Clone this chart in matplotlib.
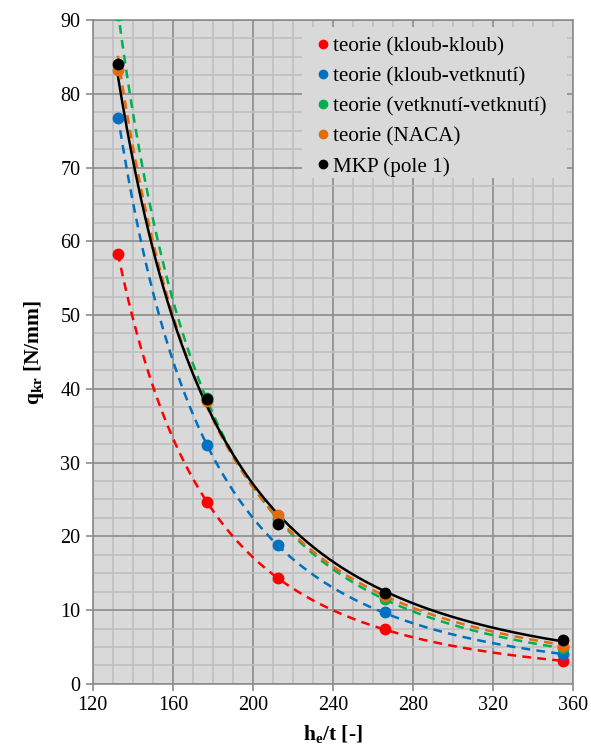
import matplotlib.pyplot as plt
import numpy as np
from matplotlib.patches import Rectangle
from matplotlib.ticker import MultipleLocator

plt.rcParams['font.family'] = ['Liberation Serif', 'DejaVu Serif']
plt.rcParams['mathtext.fontset'] = 'custom'
plt.rcParams['mathtext.rm'] = 'Liberation Serif'
plt.rcParams['mathtext.bf'] = 'Liberation Serif:bold'

# pomer h_e/t
x = np.array([132.5, 177.0, 212.5, 266.0, 355.0])

# kriticke zatizeni q_kr [N/mm]
q_kk = np.array([58.3, 24.7, 14.3, 7.4, 3.1])      # kloub-kloub
q_kv = np.array([76.7, 32.4, 18.8, 9.7, 4.0])      # kloub-vetknuti
q_vv = np.array([90.7, 38.7, 22.4, 11.5, 4.8])     # vetknuti-vetknuti
q_naca = np.array([83.2, 38.3, 22.9, 11.9, 5.2])   # NACA
q_mkp = np.array([84.1, 38.6, 21.7, 12.3, 5.95])   # MKP (pole 1)

series = [
    ("teorie (kloub-kloub)", q_kk, "#FF0000", (0, (3.5, 2.5))),
    ("teorie (kloub-vetknutí)", q_kv, "#0070C0", (0, (3.5, 2.5))),
    ("teorie (vetknutí-vetknutí)", q_vv, "#00B050", (0, (3.5, 2.5))),
    ("teorie (NACA)", q_naca, "#E46C0A", (0, (3.5, 2.5))),
    ("MKP (pole 1)", q_mkp, "#000000", "-"),
]

fig = plt.figure(figsize=(5.91, 7.54), dpi=100)
ax = fig.add_axes([0.157, 0.093, 0.813, 0.8805])
ax.set_facecolor("#D9D9D9")

xs = np.linspace(x[0], x[-1], 300)
for name, y, c, ls in series:
    # mocninna spojnice trendu (jako v Excelu)
    b, a = np.polyfit(np.log(x), np.log(y), 1)
    ax.plot(xs, np.exp(a) * xs ** b, color=c, ls=ls, lw=1.8, zorder=3)
    ax.plot(x, y, "o", color=c, ms=7.5, label=name, zorder=4)

ax.set_xlim(120, 360)
ax.set_ylim(0, 90)
ax.xaxis.set_major_locator(MultipleLocator(40))
ax.xaxis.set_minor_locator(MultipleLocator(10))
ax.yaxis.set_major_locator(MultipleLocator(10))
ax.yaxis.set_minor_locator(MultipleLocator(2.5))
ax.grid(which="minor", color="#BFBFBF", lw=1.2, zorder=0)
ax.grid(which="major", color="#8C8C8C", lw=1.2, zorder=1)
ax.set_axisbelow(True)
for s in ax.spines.values():
    s.set_color("#8C8C8C")
    s.set_linewidth(1.2)
ax.tick_params(which="major", length=5, width=1.2, color="#8C8C8C", labelsize=14.5, pad=4)
ax.tick_params(which="minor", length=0)

ax.set_xlabel(r"h$_\mathbf{e}$/t [-]", fontsize=15.5, fontweight="bold", labelpad=6)
ax.set_ylabel(r"q$_\mathbf{kr}$ [N/mm]", fontsize=15.5, fontweight="bold", labelpad=10)

# pozadi legendy (zakryje mrizku), legenda bez ramecku
ax.add_patch(Rectangle((0.435, 0.762), 0.5525, 0.2275, transform=ax.transAxes,
                       facecolor="#D9D9D9", edgecolor="none", zorder=2))
leg = ax.legend(loc="upper left", bbox_to_anchor=(0.453, 0.975), fontsize=15.2,
                frameon=False, borderaxespad=0, borderpad=0,
                handlelength=1.2, handletextpad=-0.12,
                labelspacing=0.49, markerscale=0.8)

plt.savefig("out.png", dpi=100)
